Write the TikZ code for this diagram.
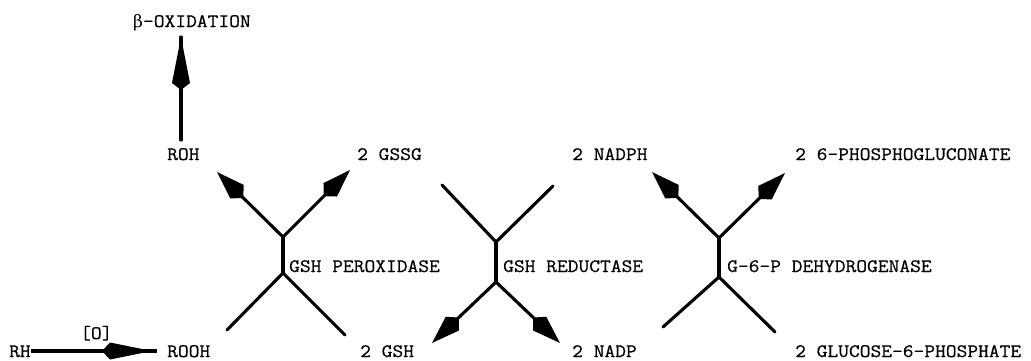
\documentclass[tikz,border=0pt]{standalone}
\usepackage{fontspec}
\setmonofont[FakeStretch=1.1,FakeBold=0.6]{Latin Modern Mono}
\newfontfamily\grk[Scale=0.9]{DejaVu Serif}
\usetikzlibrary{calc}
% filled kite head: #1 from, #2 tip, #3 length, #4 half width, #5 widest distance from tip
\newcommand\khead[5]{%
  \path ($(#2)!#5!(#1)$) coordinate (kw) ($(#2)!#3!(#1)$) coordinate (kb);
  \fill (#2) -- ($(kw)!#4!90:(#2)$) -- (kb) -- ($(kw)!#4!-90:(#2)$) -- cycle;}
\begin{document}
\begin{tikzpicture}[x=1pt,y=-1pt,
  lbl/.style={anchor=base west,inner sep=0pt,font=\ttfamily\fontsize{19}{21}\selectfont},
  arm/.style={line width=3.1pt,line cap=round}]
\useasboundingbox (0,0) rectangle (1031,360);
% labels
\node[lbl] (box)   at (133,27)  {{\grk β}-OXIDATION};
\node[lbl] (roh)   at (167,160) {ROH};
\node[lbl] (rh)    at (9,357)   {RH};
\node[lbl] (rooh)  at (167,357) {ROOH};
\node[lbl] (ox)    at (80,339)  {[O]};
\node[lbl] (gssg)  at (357,160) {2 GSSG};
\node[lbl] (gsh)   at (360,357) {2 GSH};
\node[lbl] (perox) at (289,272) {GSH PEROXIDASE};
\node[lbl] (nadph) at (572,160) {2 NADPH};
\node[lbl] (nadp)  at (572,357) {2 NADP};
\node[lbl] (red)   at (503,272) {GSH REDUCTASE};
\node[lbl] (pgl)   at (795,160) {2 6-PHOSPHOGLUCONATE};
\node[lbl] (g6p)   at (795,357) {2 GLUCOSE-6-PHOSPHATE};
\node[lbl] (dehy)  at (727,272) {G-6-P DEHYDROGENASE};
% beta-oxidation arrow
\coordinate (rohtop) at (181,140);
\coordinate (btip) at (181,37);
\draw[arm] (rohtop) -- (btip);
\khead{rohtop}{btip}{53pt}{9pt}{46pt}
% RH -> ROOH
\coordinate (rhend) at (31,351);
\coordinate (roohend) at (157,351);
\coordinate (otip) at (152,351);
\draw[arm,line cap=butt] (rhend) -- (roohend);
\khead{rhend}{otip}{50pt}{8.5pt}{42pt}
% GSH peroxidase
\coordinate (pa) at (283,237);
\coordinate (pb) at (283,273);
\coordinate (pul) at (217,172);
\coordinate (pur) at (350,170);
\coordinate (pll) at (227,330);
\coordinate (plr) at (345,335);
\draw[arm] (pa) -- (pb);
\draw[arm] (pa) -- ($(pul)!24pt!(pa)$);
\khead{pa}{pul}{37pt}{9.5pt}{28pt}
\draw[arm] (pa) -- ($(pur)!24pt!(pa)$);
\khead{pa}{pur}{37pt}{9.5pt}{28pt}
\draw[arm] (pb) -- (pll);
\draw[arm] (pb) -- (plr);
% GSH reductase
\coordinate (ra) at (496,242);
\coordinate (rb) at (496,282);
\coordinate (rul) at (442,185);
\coordinate (rur) at (553,186);
\coordinate (rll) at (432,343);
\coordinate (rlr) at (560,343);
\draw[arm] (ra) -- (rb);
\draw[arm] (ra) -- (rul);
\draw[arm] (ra) -- (rur);
\draw[arm] (rb) -- ($(rll)!24pt!(rb)$);
\khead{rb}{rll}{37pt}{9.5pt}{28pt}
\draw[arm] (rb) -- ($(rlr)!24pt!(rb)$);
\khead{rb}{rlr}{37pt}{9.5pt}{28pt}
% G-6-P dehydrogenase
\coordinate (da) at (719,238);
\coordinate (db) at (719,277);
\coordinate (dul) at (652,172);
\coordinate (dur) at (785,173);
\coordinate (dll) at (663,327);
\coordinate (dlr) at (775,332);
\draw[arm] (da) -- (db);
\draw[arm] (da) -- ($(dul)!24pt!(da)$);
\khead{da}{dul}{37pt}{9.5pt}{28pt}
\draw[arm] (da) -- ($(dur)!24pt!(da)$);
\khead{da}{dur}{37pt}{9.5pt}{28pt}
\draw[arm] (db) -- (dll);
\draw[arm] (db) -- (dlr);
\end{tikzpicture}
\end{document}
